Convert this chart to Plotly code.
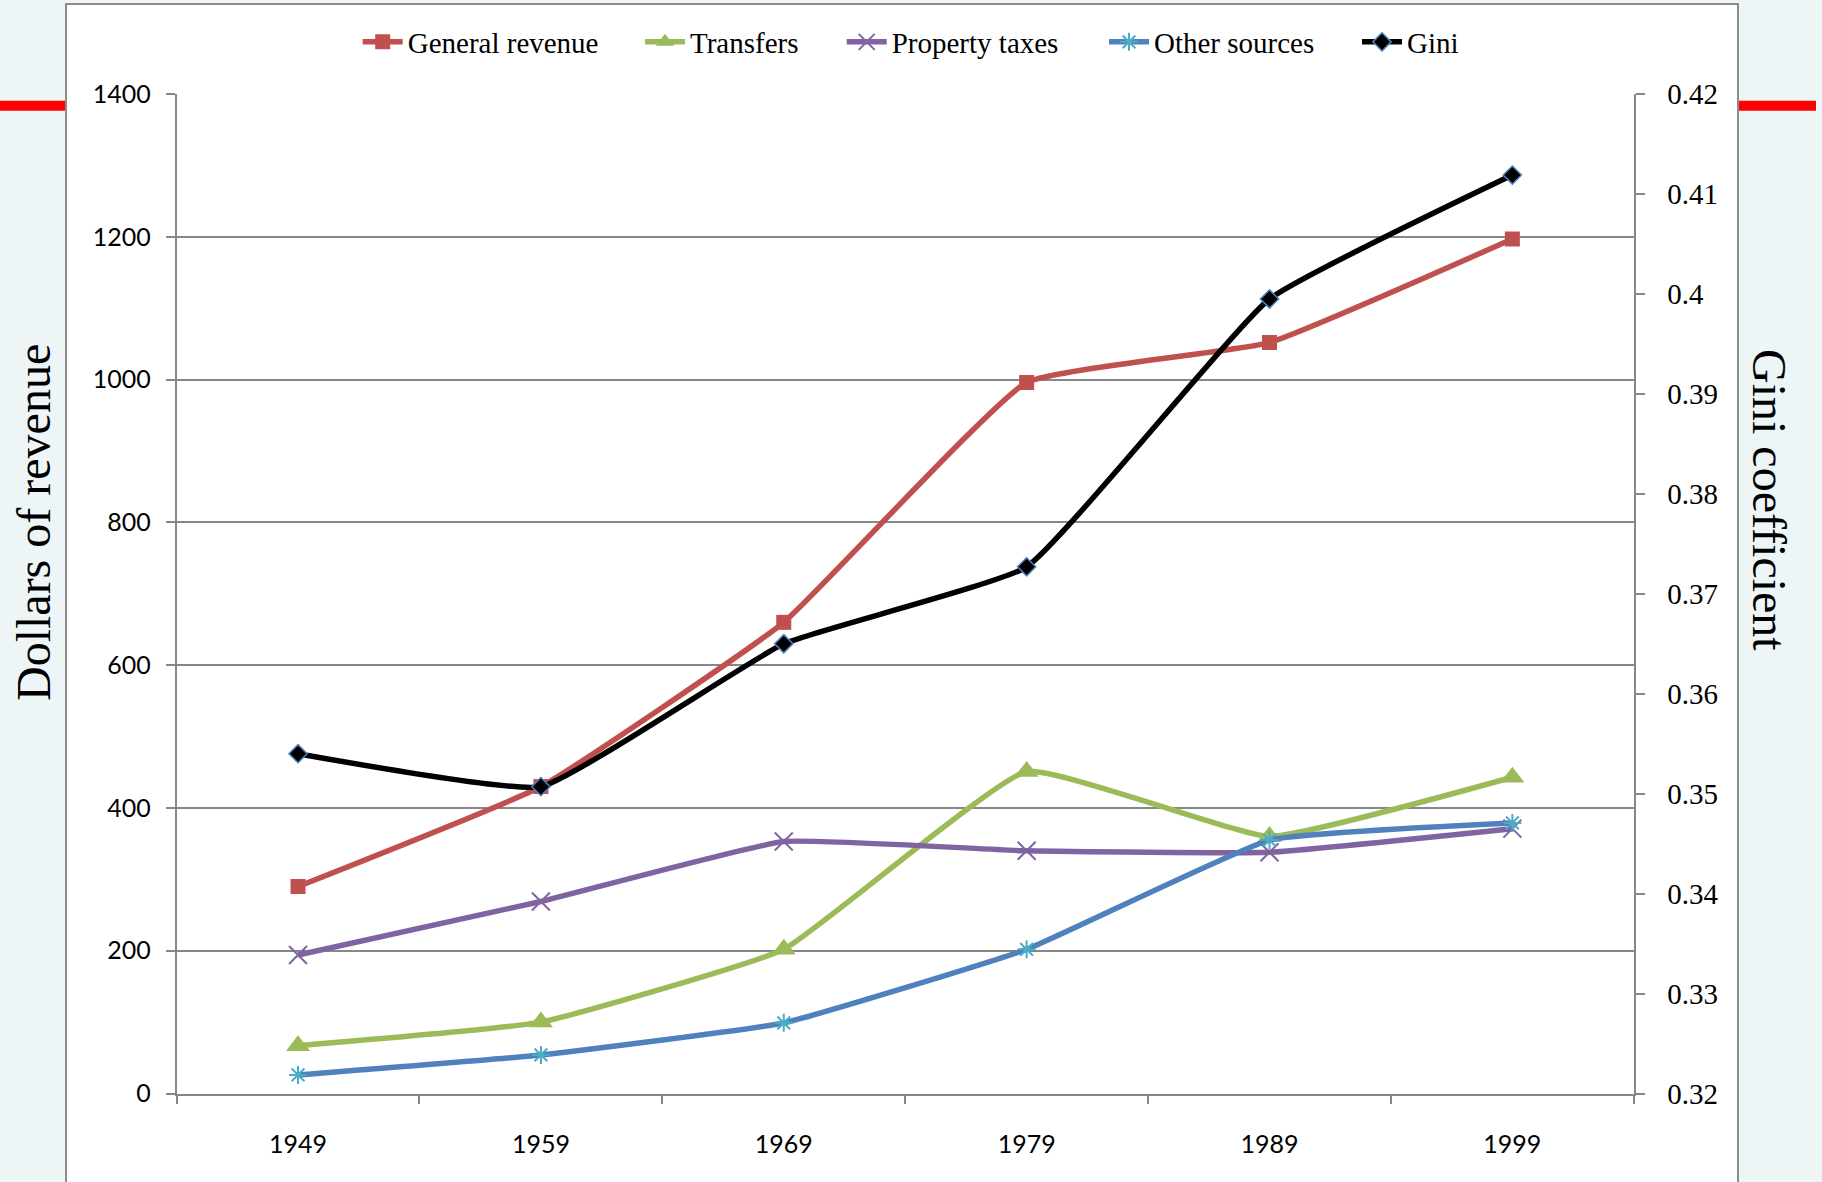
import plotly.graph_objects as go

years = ["1949", "1959", "1969", "1979", "1989", "1999"]
general_revenue = [290, 430, 660, 996, 1052, 1197]
transfers = [67, 100, 202, 451, 360, 443]
property_taxes = [194, 269, 353, 340, 338, 371]
other_sources = [26, 54, 99, 202, 355, 379]
gini = [0.354, 0.3507, 0.365, 0.3727, 0.3995, 0.4119]

left_ticks = [0, 200, 400, 600, 800, 1000, 1200, 1400]
right_ticks = [0.32, 0.33, 0.34, 0.35, 0.36, 0.37, 0.38, 0.39, 0.40, 0.41, 0.42]
right_ticktext = ["0.32", "0.33", "0.34", "0.35", "0.36", "0.37", "0.38", "0.39", "0.4", "0.41", "0.42"]

W, H = 1822, 1182
SERIF = "Liberation Serif"
SANS = "Lato"
GRAY = "#878787"

def px_x(v):
    return v / W

def px_y(v):
    return 1 - v / H

fig = go.Figure()
SM = 0.35
LW = 5.5
fig.add_trace(go.Scatter(x=years, y=general_revenue, name="General revenue", mode="lines+markers",
                         legend="legend",
                         line=dict(color="#C0504D", width=LW, shape="spline", smoothing=SM),
                         marker=dict(symbol="square", size=15, color="#C0504D")))
fig.add_trace(go.Scatter(x=years, y=transfers, name="Transfers", mode="lines+markers",
                         legend="legend2",
                         line=dict(color="#9BBB59", width=LW, shape="spline", smoothing=SM),
                         marker=dict(symbol="triangle-up", size=21, color="#9BBB59")))
fig.add_trace(go.Scatter(x=years, y=property_taxes, name="Property taxes", mode="lines+markers",
                         legend="legend3",
                         line=dict(color="#8064A2", width=LW, shape="spline", smoothing=SM),
                         marker=dict(symbol="x-thin-open", size=18, color="#8064A2",
                                     line=dict(color="#8064A2", width=2))))
fig.add_trace(go.Scatter(x=years, y=other_sources, name="Other sources", mode="lines+markers",
                         legend="legend4",
                         line=dict(color="#4F81BD", width=LW, shape="spline", smoothing=SM),
                         marker=dict(symbol="asterisk-open", size=15, color="#4BACC6",
                                     line=dict(color="#4BACC6", width=2))))
fig.add_trace(go.Scatter(x=years, y=gini, name="Gini", mode="lines+markers", yaxis="y2",
                         legend="legend5",
                         line=dict(color="#000000", width=LW, shape="spline", smoothing=SM),
                         marker=dict(symbol="diamond", size=14, color="#000000",
                                     line=dict(color="#4F81BD", width=1.5))))

x0d, x1d = px_x(176.6), px_x(1633.8)
y0d, y1d = px_y(1093.5), px_y(94.1)

# legend text start positions (px) in the reference
legend_text_x = [407.7, 690, 891.7, 1154, 1407]

def make_legend(text_x):
    return dict(orientation="h", x=px_x(text_x - 50), xanchor="left", y=px_y(42), yanchor="middle",
                font=dict(family=SERIF, size=29, color="#000000"),
                bgcolor="rgba(0,0,0,0)", itemwidth=40, borderwidth=0)

fig.update_layout(
    width=W, height=H,
    margin=dict(l=0, r=0, t=0, b=0, autoexpand=False),
    font=dict(family=SERIF, color="#000000"),
    paper_bgcolor="#EDF5F7",
    plot_bgcolor="rgba(0,0,0,0)",
    showlegend=True,
    legend=make_legend(legend_text_x[0]),
    legend2=make_legend(legend_text_x[1]),
    legend3=make_legend(legend_text_x[2]),
    legend4=make_legend(legend_text_x[3]),
    legend5=make_legend(legend_text_x[4]),
    xaxis=dict(domain=[x0d, x1d], type="category", range=[-0.5, 5.5],
               showline=True, linecolor=GRAY, linewidth=1.5,
               ticks="outside", tickson="boundaries", ticklen=9, tickcolor=GRAY, tickwidth=1.5,
               showgrid=False, zeroline=False, automargin=False,
               tickfont=dict(family=SANS, size=25, color="#000000"),
               ticklabelstandoff=28),
    yaxis=dict(domain=[y0d, y1d], range=[0, 1400], tickvals=left_ticks,
               showline=True, linecolor=GRAY, linewidth=1.5,
               ticks="outside", ticklen=9, tickcolor=GRAY, tickwidth=1.5,
               showgrid=True, gridcolor=GRAY, gridwidth=1.5, zeroline=False, automargin=False,
               tickfont=dict(family=SANS, size=25, color="#000000"),
               ticklabelstandoff=10),
    yaxis2=dict(overlaying="y", side="right", anchor="x", range=[0.32, 0.42],
                tickvals=right_ticks, ticktext=right_ticktext,
                showline=True, linecolor=GRAY, linewidth=1.5,
                ticks="outside", ticklen=9, tickcolor=GRAY, tickwidth=1.5,
                showgrid=False, zeroline=False, automargin=False,
                tickfont=dict(family=SERIF, size=29, color="#000000"),
                ticklabelstandoff=17),
    shapes=[
        dict(type="rect", xref="paper", yref="paper", x0=px_x(66), x1=px_x(1738), y0=-0.05, y1=px_y(4),
             fillcolor="#FFFFFF", line=dict(color="#8C8C8C", width=2), layer="below"),
        dict(type="line", xref="paper", yref="paper", x0=0, x1=px_x(65), y0=px_y(105.7), y1=px_y(105.7),
             line=dict(color="#FF0000", width=10), layer="above"),
        dict(type="line", xref="paper", yref="paper", x0=px_x(1739), x1=px_x(1816), y0=px_y(105.7), y1=px_y(105.7),
             line=dict(color="#FF0000", width=10), layer="above"),
    ],
    annotations=[
        dict(text="Dollars of revenue", xref="paper", yref="paper", x=px_x(33), y=px_y(523),
             xanchor="center", yanchor="middle", textangle=-90, showarrow=False,
             font=dict(family=SERIF, size=48, color="#000000")),
        dict(text="Gini coefficient", xref="paper", yref="paper", x=px_x(1770), y=px_y(500),
             xanchor="center", yanchor="middle", textangle=90, showarrow=False,
             font=dict(family=SERIF, size=48, color="#000000")),
    ],
)

fig.write_html("out.html")
